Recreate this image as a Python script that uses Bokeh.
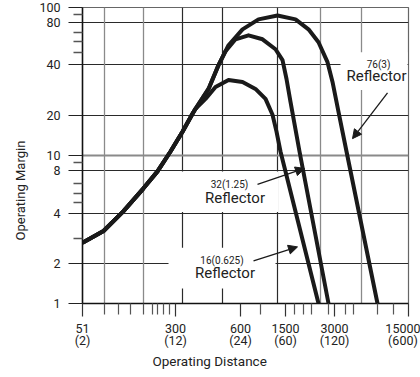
import math
from bokeh.plotting import figure
from bokeh.models import FixedTicker, Grid, Label, Arrow, NormalHead, Title
from bokeh.embed import file_html
from bokeh.resources import INLINE

# ---------------- data ----------------
# Operating distance (mm) / operating margin for each reflector size
R16_X = [51, 73.6, 104.3, 147.7, 188.6, 236.6, 291.6, 347.2, 365.8,
         435.5, 518.4, 650.5, 830.4, 1041, 1240, 1401, 1502, 1610, 3124]
R16_Y = [2.57, 3.09, 4.21, 6.00, 7.81, 10.64, 14.49, 19.14, 20.67,
         24.13, 29.05, 32.36, 31.37, 28.17, 24.13, 18.85, 14.49, 10.64, 1.0]

R32_X = [51, 73.6, 104.3, 147.7, 188.6, 236.6, 291.6, 347.2, 365.8,
         458.9, 546.3, 617.2, 734.9, 921.8, 1177, 1476, 1668, 1788, 1917, 2243, 3719]
R32_Y = [2.57, 3.09, 4.21, 6.00, 7.81, 10.64, 14.49, 19.14, 20.67,
         28.17, 40.8, 50.67, 60.98, 64.88, 60.98, 52.25, 44.1, 32.87, 23.04, 10.64, 1.0]

R76_X = [51, 73.6, 104.3, 147.7, 188.6, 236.6, 291.6, 347.2, 365.8,
         458.9, 546.3, 650.5, 830.4, 1097, 1528, 2092, 2624, 3124, 3654, 3988, 4427, 5090, 8738]
R76_Y = [2.57, 3.09, 4.21, 6.00, 7.81, 10.64, 14.49, 19.14, 20.67,
         28.17, 40.8, 55.6, 71.2, 83.1, 88.4, 83.1, 71.2, 58.2, 42.7, 31.4, 19.74, 10.64, 1.0]

# axis ticks and labels
X_TICKS = [51, 258, 802, 1757, 4128, 15000]
X_LABELS = ["51\n(2)", "300\n(12)", "600\n(24)", "1500\n(60)", "3000\n(120)", "15000\n(600)"]
X_MINOR = [74.8, 95.6, 117.8, 147.7, 172.8, 188.6, 209.4, 232.5,
           1136, 2055, 2405, 2765, 3719, 5001, 5750, 8738, 11550]

Y_TICKS = [1, 1.856, 4.08, 7.93, 10, 18.56, 41.4, 79.3, 100]
Y_LABELS = ["1", "2", "4", "8", "10", "20", "40", "80", "100"]
Y_MINOR = [2.73, 4.84, 5.56, 6.49, 8.98, 49.9, 59.1, 67.9, 89.8]

# grid lines
VGRID_DARK = [291.6, 585.8, 1528]
VGRID_GRAY = [74.8, 147.7, 3234, 6611]
HGRID_DARK = [1.856, 4.08, 7.93, 18.56, 41.4, 79.3]
HGRID_GRAY = [10]

# white label boxes (cover the grid behind the annotations)
BOX_L = [4585, 281.6, 228.5]
BOX_R = [14746, 1555, 1476]
BOX_T = [49.9, 7.81, 2.376]
BOX_B = [27.73, 4.145, 1.261]

FONT = "Roboto"
INK = "#1a1a1a"

p = figure(width=420, height=377, x_axis_type="log", y_axis_type="log",
           x_range=(51, 15000), y_range=(1, 100),
           output_backend="svg", toolbar_location=None,
           min_border_left=82, min_border_right=12, min_border_top=7, min_border_bottom=74)
p.background_fill_color = "white"
p.border_fill_color = "white"
p.outline_line_color = "#666666"
p.outline_line_width = 1.2

# x axis
xa = p.xaxis[0]
xa.ticker = FixedTicker(ticks=X_TICKS, minor_ticks=X_MINOR)
xa.major_label_overrides = dict(zip(X_TICKS, X_LABELS))
xa.major_tick_in = 0
xa.major_tick_out = 13
xa.minor_tick_in = 0
xa.minor_tick_out = 11
xa.axis_line_color = "#111111"
xa.axis_line_width = 1.5
xa.major_tick_line_color = "#333333"
xa.minor_tick_line_color = "#555555"
xa.major_tick_line_width = 1.2
xa.minor_tick_line_width = 1.2
xa.major_label_standoff = 4
xa.major_label_text_font = FONT
xa.major_label_text_font_size = "12.5px"
xa.major_label_text_line_height = 0.8
xa.major_label_text_color = "#222222"

# y axis
ya = p.yaxis[0]
ya.ticker = FixedTicker(ticks=Y_TICKS, minor_ticks=Y_MINOR)
ya.major_label_overrides = dict(zip(Y_TICKS, Y_LABELS))
ya.major_tick_in = 0
ya.major_tick_out = 14
ya.minor_tick_in = 0
ya.minor_tick_out = 9
ya.axis_line_color = "#111111"
ya.axis_line_width = 1.5
ya.major_tick_line_color = "#222222"
ya.minor_tick_line_color = "#555555"
ya.major_tick_line_width = 1.2
ya.minor_tick_line_width = 1.5
ya.major_label_standoff = 8
ya.major_label_text_font = FONT
ya.major_label_text_font_size = "12.5px"
ya.major_label_text_color = "#222222"

# grids
p.xgrid.ticker = FixedTicker(ticks=VGRID_DARK)
p.xgrid.grid_line_color = "#2a2a2a"
p.xgrid.grid_line_width = 1.2
p.ygrid.ticker = FixedTicker(ticks=HGRID_DARK)
p.ygrid.grid_line_color = "#2a2a2a"
p.ygrid.grid_line_width = 1.2
p.add_layout(Grid(dimension=0, ticker=FixedTicker(ticks=VGRID_GRAY),
                  grid_line_color="#8a8a8a", grid_line_width=1.3))
p.add_layout(Grid(dimension=1, ticker=FixedTicker(ticks=HGRID_GRAY),
                  grid_line_color="#8a8a8a", grid_line_width=2))

# white boxes behind the annotations
p.quad(left=BOX_L, right=BOX_R, top=BOX_T, bottom=BOX_B,
       fill_color="white", line_color=None)

# curves
for xs, ys in ((R16_X, R16_Y), (R32_X, R32_Y), (R76_X, R76_Y)):
    p.line(xs, ys, line_width=4, line_color=INK, line_join="round", line_cap="butt")

# arrows
ARROWS = [((10404, 26.47), (5651, 13.0)),
          ((1078, 6.39), (2447, 8.18)),
          ((1006, 1.944), (2166, 2.413))]
for (x0, y0), (x1, y1) in ARROWS:
    p.add_layout(Arrow(end=NormalHead(size=9, fill_color=INK, line_color=INK, line_width=1),
                       x_start=x0, y_start=y0, x_end=x1, y_end=y1,
                       line_color=INK, line_width=1.3))

def lab(x, y, text, size):
    p.add_layout(Label(x=x, y=y, text=text, text_font=FONT, text_font_size=size,
                       text_align="center", text_baseline="middle",
                       text_color="#222222"))

lab(8896, 41.45, "76(3)", "10px")
lab(8590, 34.7, "Reflector", "15px")
lab(662, 6.39, "32(1.25)", "10px")
lab(728.6, 5.185, "Reflector", "15px")
lab(580.6, 1.958, "16(0.625)", "10px")
lab(612, 1.602, "Reflector", "15px")

# axis titles
p.add_layout(Title(text="Operating Distance", align="left", offset=70, standoff=0,
                   text_font=FONT, text_font_size="13.5px", text_font_style="normal",
                   text_color="#222222"), "below")
p.add_layout(Title(text="Operating Margin", align="left", offset=63, standoff=17,
                   text_font=FONT, text_font_size="13px", text_font_style="normal",
                   text_color="#222222"), "left")

open("out.html", "w").write(file_html(p, INLINE))
